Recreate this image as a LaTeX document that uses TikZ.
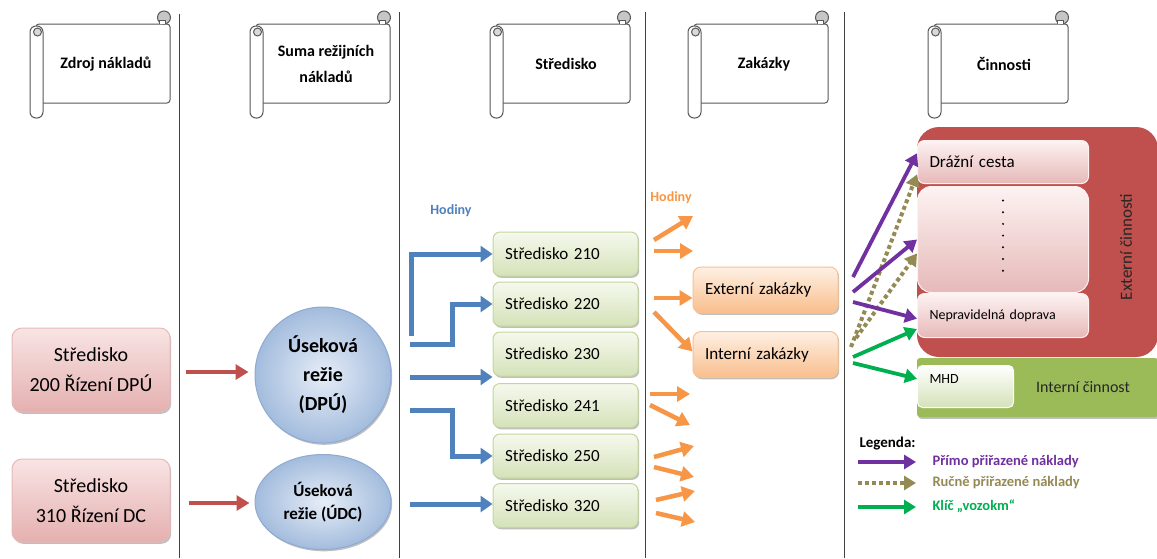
\documentclass[tikz,border=0pt]{standalone}
\usepackage{fontspec}
\setmainfont{Carlito}
\usetikzlibrary{arrows.meta,shapes.geometric,calc,shadows}
\definecolor{arblue}{HTML}{4F81BD}
\definecolor{arorange}{HTML}{F79646}
\definecolor{arred}{HTML}{C0504D}
\definecolor{arpurple}{HTML}{7030A0}
\definecolor{arolive}{HTML}{948A54}
\definecolor{argreen}{HTML}{00B050}
\definecolor{panelgreen}{HTML}{9BBB59}
\definecolor{panelred}{HTML}{C0504D}
\definecolor{redtop}{HTML}{F9E4E4}
\definecolor{redbot}{HTML}{E4B0AF}
\definecolor{redline}{HTML}{E6B9B8}
\definecolor{grtop}{HTML}{F5F9EE}
\definecolor{grbot}{HTML}{D4E2B8}
\definecolor{grline}{HTML}{C3D69B}
\definecolor{ortop}{HTML}{FEF0E4}
\definecolor{orbot}{HTML}{F9BE8C}
\definecolor{orline}{HTML}{FAC090}
\definecolor{elin}{HTML}{E6EDF7}
\definecolor{elout}{HTML}{A3BCDD}
\definecolor{elline}{HTML}{8EAAD2}
\definecolor{pktop}{HTML}{FDF2F2}
\definecolor{pkbot}{HTML}{E6B9B8}
\tikzset{
  sepline/.style={draw=black!75, line width=0.9pt},
  scrollline/.style={draw=black!65, line width=1pt},
  scrolltext/.style={font=\bfseries\fontsize{16}{26}\selectfont, align=center},
  scroll/.pic={
    \filldraw[fill=white, scrollline, rounded corners=3pt] (6,24) rectangle (140,103);
    \filldraw[fill=gray!45, scrollline] (134,17.5) circle[radius=6.5];
    \filldraw[fill=white, scrollline] (129,24) -- (129,20) -- (135,20) -- (135,24);
    \filldraw[fill=white, scrollline, rounded corners=6pt] (0,26) rectangle (13,118);
    \filldraw[fill=gray!30, scrollline] (7.5,32) circle[radius=4];
    \node[scrolltext] (-t) at (76,64) {#1};
  },
  shadowed/.style={drop shadow={shadow xshift=1.2pt, shadow yshift=-1.8pt, opacity=0.25, fill=black}},
  redbox/.style={rectangle, rounded corners=10pt, minimum width=158pt, minimum height=84pt,
    top color=redtop, bottom color=redbot, draw=redline, line width=1pt, align=center,
    font=\fontsize{20}{30}\selectfont, shadowed},
  greenbox/.style={rectangle, rounded corners=7pt, minimum height=44pt, text width=121pt,
    inner xsep=12pt, align=left, top color=grtop, bottom color=grbot, draw=grline,
    line width=1pt, font=\fontsize{17}{20}\selectfont, shadowed},
  orbox/.style={rectangle, rounded corners=8pt, minimum height=46pt, text width=121pt,
    inner xsep=12pt, align=left, top color=ortop, bottom color=orbot, draw=orline,
    line width=1pt, font=\fontsize{17}{20}\selectfont, shadowed},
  bluell/.style={ellipse, inner sep=0pt, inner color=elin, outer color=elout, draw=elline,
    line width=1pt, align=center, shadowed},
  pinkbox/.style={rectangle, rounded corners=7pt, anchor=north west, top color=pktop,
    bottom color=pkbot, draw=pktop, line width=1pt, align=left, inner xsep=12pt},
  barrow/.style={draw=arblue, line width=5pt, line join=miter, -{Triangle[length=12pt,width=16pt]}},
  oarrow/.style={draw=arorange, line width=4.5pt, -{Triangle[length=13pt,width=15pt]}},
  rarrow/.style={draw=arred, line width=4pt, -{Triangle[length=13pt,width=15pt]}},
  parrow/.style={draw=arpurple, line width=3.8pt, -{Triangle[length=12pt,width=14pt]}},
  darrow/.style={draw=arolive, line width=4pt, dash pattern=on 4pt off 3pt, -{Triangle[length=12pt,width=14pt]}},
  garrow/.style={draw=argreen, line width=3.8pt, -{Triangle[length=12pt,width=14pt]}},
  hodiny/.style={font=\bfseries\fontsize{14}{16}\selectfont},
  legtext/.style={anchor=west, font=\bfseries\fontsize{14.5}{17}\selectfont},
}
\begin{document}
\begin{tikzpicture}[x=1pt,y=-1pt]
\useasboundingbox (0,0) rectangle (1157,558);
\fill[white] (0,0) rectangle (1157,558);

% column separators
\draw[sepline] (179.5,14) -- (179.5,558);
\draw[sepline] (399.5,12) -- (399.5,558);
\draw[sepline] (645.5,12) -- (645.5,558);
\draw[sepline] (844.5,12) -- (844.5,558);

% headers
\pic (h1) at (30,0) {scroll={Zdroj nákladů}};
\pic (h2) at (250,0) {scroll={Suma režijních\\nákladů}};
\pic (h3) at (490,0) {scroll={Středisko}};
\pic (h4) at (688,0) {scroll={Zakázky}};
\pic (h5) at (928,0) {scroll={Činnosti}};

% column 1
\node[redbox] (src1) at (91,370) {Středisko\\200 Řízení DPÚ};
\node[redbox, minimum height=83pt] (src2) at (91,500.5) {Středisko\\310 Řízení DC};

% column 2
\node[bluell, minimum width=136pt, minimum height=136pt, font=\bfseries\fontsize{20}{29}\selectfont] (dpu) at (323,375) {Úseková\\režie\\(DPÚ)};
\node[bluell, minimum width=136pt, minimum height=95pt, font=\bfseries\fontsize{17}{23}\selectfont] (udc) at (323,502) {Úseková\\režie (ÚDC)};
\coordinate (r1) at (0,372);
\coordinate (r2) at (0,503);
\draw[rarrow, shorten <=15pt, shorten >=6pt] (src1.east |- r1) -- (dpu.west |- r1);
\draw[rarrow, shorten <=18pt, shorten >=5pt] (src2.east |- r2) -- (udc.west |- r2);

% column 3
\node[hodiny, text=arblue] (hod1) at (451,211) {Hodiny};
\node[greenbox] (s210) at (565.5,254) {Středisko 210};
\node[greenbox] (s220) at (565.5,304) {Středisko 220};
\node[greenbox] (s230) at (565.5,354) {Středisko 230};
\node[greenbox] (s241) at (565.5,405.5) {Středisko 241};
\node[greenbox] (s250) at (565.5,456) {Středisko 250};
\node[greenbox] (s320) at (565.5,505.5) {Středisko 320};

\coordinate (b1) at (411,336);
\coordinate (b2) at (410,344);
\coordinate (b2k) at (452,344);
\coordinate (b3) at (410,377);
\coordinate (b4) at (410,410);
\coordinate (b4k) at (452,410);
\coordinate (b5) at (410,504);
\draw[barrow] (b1) |- (s210.west);
\draw[barrow] (b2) -- (b2k) |- (s220.west);
\draw[barrow] (b3) -- (b3 -| s230.west);
\draw[barrow] (b4) -- (b4k) |- (s250.west);
\draw[barrow] (b5) -- (b5 -| s320.west);

% column 4
\node[hodiny, text=arorange] (hod2) at (671,198) {Hodiny};
\node[orbox] (ext) at (765.5,290) {Externí zakázky};
\node[orbox] (int) at (765.5,354.5) {Interní zakázky};

\coordinate (o1s) at (654,240); \coordinate (o1e) at (693,216);
\coordinate (o2s) at (654,251); \coordinate (o2e) at (693,251);
\coordinate (o3s) at (654,298);
\coordinate (o4s) at (654,312);
\coordinate (o5s) at (650,394); \coordinate (o5e) at (690,394);
\coordinate (o6s) at (650,405); \coordinate (o6e) at (690,425);
\coordinate (o7s) at (654,457); \coordinate (o7e) at (694,446);
\coordinate (o8s) at (654,467); \coordinate (o8e) at (694,477);
\coordinate (o9s) at (656,500); \coordinate (o9e) at (695,491);
\coordinate (o10s) at (656,513); \coordinate (o10e) at (695,522);
\draw[oarrow] (o1s) -- (o1e);
\draw[oarrow] (o2s) -- (o2e);
\draw[oarrow] (o3s) -- (o3s -| ext.west);
\draw[oarrow] (o4s) -- ([yshift=3pt]int.west);
\draw[oarrow] (o5s) -- (o5e);
\draw[oarrow] (o6s) -- (o6e);
\draw[oarrow] (o7s) -- (o7e);
\draw[oarrow] (o8s) -- (o8e);
\draw[oarrow] (o9s) -- (o9e);
\draw[oarrow] (o10s) -- (o10e);

% column 5
\node[rectangle, rounded corners=22pt, fill=panelred, minimum width=241pt, minimum height=230pt, inner sep=0pt] (extpanel) at (1037.5,242) {};
\node[rectangle, rounded corners=3pt, fill=panelgreen, minimum width=241pt, minimum height=59pt, inner sep=0pt, shadowed] (intpanel) at (1037.5,387.5) {};
\node[rotate=90, font=\fontsize{17}{20}\selectfont, text=black!85] (extlab) at (1126,247) {Externí činnosti};
\node[font=\fontsize{16}{19}\selectfont, text=black!85] (intlab) at (1083,387) {Interní činnost};

\node[pinkbox, minimum width=171pt, minimum height=43pt, text width=147pt, font=\fontsize{17}{20}\selectfont] (draz) at (917,140) {Drážní cesta};
\node[pinkbox, minimum width=171pt, minimum height=106pt, rounded corners=14pt] (mid) at (917,186) {};
\node[pinkbox, minimum width=171pt, minimum height=44pt, text width=147pt, font=\fontsize{14}{17}\selectfont] (nep) at (917,293) {Nepravidelná doprava};
\node[pinkbox, top color=white, bottom color=grbot, draw=white, minimum width=96pt, minimum height=42pt, text width=72pt, rounded corners=5pt, font=\fontsize{14}{17}\selectfont] (mhd) at (917,365) {MHD\\[-2pt]\mbox{}};
\foreach \i in {0,...,6} \fill[black] (1003,200.5+\i*11.7) circle[radius=1.1pt];

\coordinate (p1s) at (853,277);
\coordinate (p2s) at (853,292);
\coordinate (p3s) at (853,302);
\coordinate (d1s) at (851,347);
\coordinate (d2s) at (856,338);
\coordinate (g1s) at (853,357);
\coordinate (g2s) at (853,363);
\draw[darrow] (d1s) -- ($(draz.north west)!0.78!(draz.south west)$);
\draw[darrow] (d2s) -- ($(mid.north west)!0.63!(mid.south west)$);
\draw[parrow] (p1s) -- ($(draz.north west)!0.3!(draz.south west)$);
\draw[parrow] (p2s) -- ($(mid.north west)!0.5!(mid.south west)$);
\draw[parrow] (p3s) -- ($(nep.north west)!0.57!(nep.south west)$);
\draw[garrow] (g1s) -- ($(nep.north west)!0.8!(nep.south west)$);
\draw[garrow] (g2s) -- ($(mhd.north west)!0.32!(mhd.south west)$);

% legend
\node[legtext, font=\bfseries\fontsize{15}{17}\selectfont] (leg) at (856,443) {Legenda:};
\coordinate (l1s) at (858,462); \coordinate (l1e) at (916,462);
\coordinate (l2s) at (858,483); \coordinate (l2e) at (916,483);
\coordinate (l3s) at (858,507); \coordinate (l3e) at (916,507);
\draw[parrow, line width=4pt, -{Triangle[length=12pt,width=14pt]}] (l1s) -- (l1e);
\draw[darrow, -{Triangle[length=12pt,width=14pt]}] (l2s) -- (l2e);
\draw[garrow, line width=4pt, -{Triangle[length=12pt,width=14pt]}] (l3s) -- (l3e);
\node[legtext, text=arpurple] (lt1) at (929,462) {Přímo přiřazené náklady};
\node[legtext, text=arolive] (lt2) at (929,483) {Ručně přiřazené náklady};
\node[legtext, text=argreen] (lt3) at (929,506) {Klíč „vozokm“};
\end{tikzpicture}
\end{document}
